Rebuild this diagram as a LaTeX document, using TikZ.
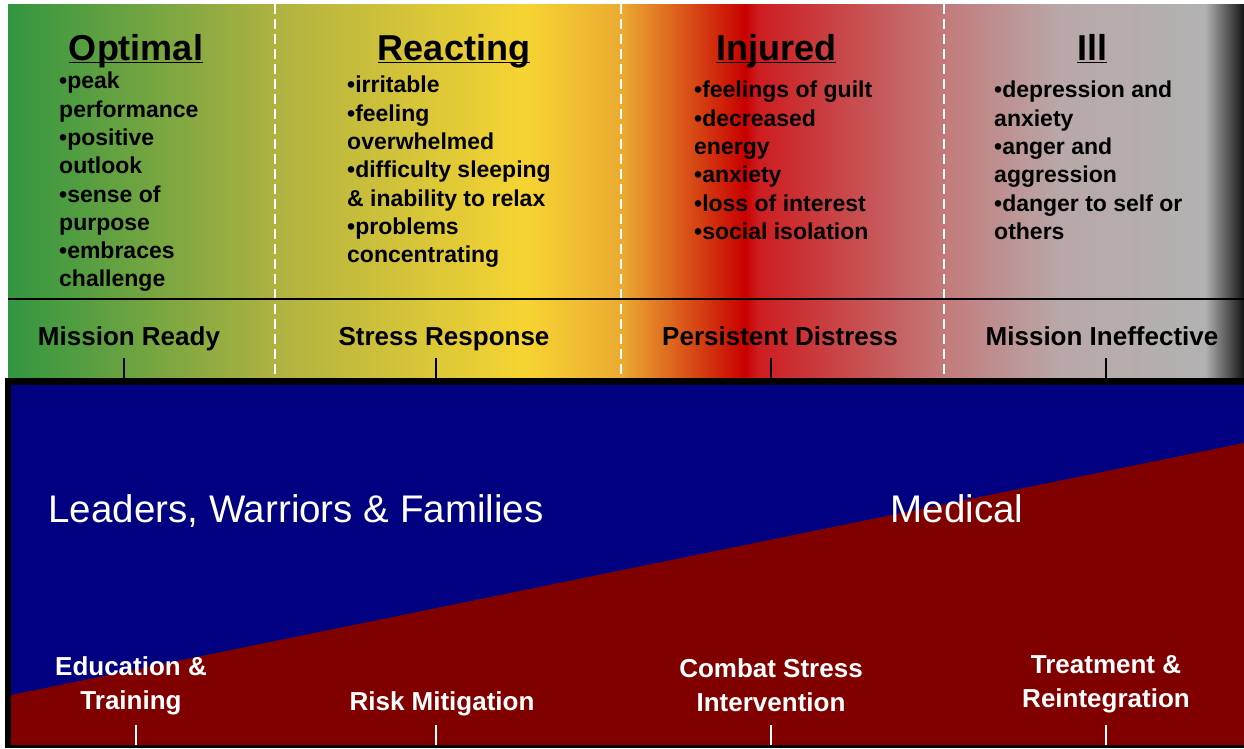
\documentclass[tikz,border=0pt]{standalone}
\usepackage{fontspec}
\setmainfont{Liberation Sans}

\definecolor{navyblue}{RGB}{0,0,128}
\definecolor{maroonred}{RGB}{128,0,0}
\definecolor{zonegreen}{RGB}{50,150,65}
\definecolor{zoneolive}{RGB}{175,178,65}
\definecolor{zoneyellow}{RGB}{246,212,50}
\definecolor{zoneorange}{RGB}{235,170,50}
\definecolor{zonered}{RGB}{200,0,0}
\definecolor{zonecrimson}{RGB}{205,28,32}
\definecolor{zonepink}{RGB}{195,122,122}
\definecolor{zonerose}{RGB}{185,168,168}
\definecolor{zonegray}{RGB}{178,178,178}
\definecolor{zonedark}{RGB}{20,20,20}

\begin{document}
\begin{tikzpicture}[x=1pt, y=-1pt,
    title/.style={font=\bfseries\fontsize{36}{40}\selectfont, inner sep=0pt, anchor=base},
    symptoms/.style={font=\bfseries\fontsize{23}{28.3}\selectfont, align=left, inner sep=0pt, anchor=north west},
    status/.style={font=\bfseries\fontsize{26}{30}\selectfont, inner sep=0pt, anchor=base},
    action/.style={font=\bfseries\fontsize{26}{34.5}\selectfont, text=white, align=center, inner sep=0pt, anchor=north},
    group/.style={font=\fontsize{38.5}{42}\selectfont, text=white, inner sep=0pt, anchor=base},
    divider/.style={white, line width=2pt, dash pattern=on 10pt off 5pt},
    tickline/.style={line width=2pt},
    underline/.style={line width=1.6pt}]
          \useasboundingbox (0,0) rectangle (1244,748);
          \fill[white] (0,0) rectangle (1244,748);
          % colour band
          \shade[left color=zonegreen,   right color=zoneolive]   (8,4)    rectangle (275.5,379);
          \shade[left color=zoneolive,   right color=zoneyellow]  (275,4)  rectangle (525.5,379);
          \shade[left color=zoneyellow,  right color=zoneorange]  (525,4)  rectangle (622.5,379);
          \shade[left color=zoneorange,  right color=zonered]     (622,4)  rectangle (745.5,379);
          \shade[left color=zonered,     right color=zonecrimson] (745,4)  rectangle (757.5,379);
          \shade[left color=zonecrimson, right color=zonepink]    (757,4)  rectangle (944.5,379);
          \shade[left color=zonepink,    right color=zonerose]    (944,4)  rectangle (1060.5,379);
          \shade[left color=zonerose,    right color=zonegray]    (1060,4) rectangle (1205.5,379);
          \shade[left color=zonegray,    right color=zonedark]    (1205,4) rectangle (1244,379);
          \draw[divider] (275,4) -- (275,379);
          \draw[divider] (621,4) -- (621,379);
          \draw[divider] (944,4) -- (944,379);
          \draw[line width=2pt] (8,299) -- (1244,299);

          % zone titles
          \node[title] (optimal)  at (136,60)  {Optimal};
          \node[title] (reacting) at (454,60)  {Reacting};
          \node[title] (injured)  at (776,60)  {Injured};
          \node[title] (ill)      at (1092,60) {Ill};
          \draw[underline] ([yshift=-2.5pt]optimal.base west)  -- ([yshift=-2.5pt]optimal.base east);
          \draw[underline] ([yshift=-2.5pt]reacting.base west) -- ([yshift=-2.5pt]reacting.base east);
          \draw[underline] ([yshift=-2.5pt]injured.base west)  -- ([yshift=-2.5pt]injured.base east);
          \draw[underline] ([yshift=-2.5pt]ill.base west)      -- ([yshift=-2.5pt]ill.base east);

          % symptoms
          \node[symptoms] (optimallist)  at (59,72)  {•peak\\performance\\•positive\\outlook\\•sense of\\purpose\\•embraces\\challenge};
          \node[symptoms] (reactinglist) at (347,76) {•irritable\\•feeling\\overwhelmed\\•difficulty sleeping\\\& inability to relax\\•problems\\concentrating};
          \node[symptoms] (injuredlist)  at (694,81) {•feelings of guilt\\•decreased\\energy\\•anxiety\\•loss of interest\\•social isolation};
          \node[symptoms] (illlist)      at (994,81) {•depression and\\anxiety\\•anger and\\aggression\\•danger to self or\\others};

          % readiness
          \node[status] (ready)       at (129,345)  {Mission Ready};
          \node[status] (response)    at (444,345)  {Stress Response};
          \node[status] (distress)    at (780,345)  {Persistent Distress};
          \node[status] (ineffective) at (1102,345) {Mission Ineffective};
          \draw[tickline] (124,358)  -- (124,379);
          \draw[tickline] (436,358)  -- (436,379);
          \draw[tickline] (771,358)  -- (771,379);
          \draw[tickline] (1106,358) -- (1106,379);

          % responsibility
          \fill[black] (5,378) rectangle (1244,748);
          \fill[navyblue] (11,385) rectangle (1244,745);
          \fill[maroonred] (11,695) -- (1244,443) -- (1244,745) -- (11,745) -- cycle;
          \node[group] (leaders) at (296,522) {Leaders, Warriors \& Families};
          \node[group] (medical) at (957,522) {Medical};

          % interventions
          \node[action] (education)    at (131,656)  {Education \&\\Training};
          \node[action] (mitigation)   at (442,691)  {Risk Mitigation};
          \node[action] (intervention) at (771,658)  {Combat Stress\\Intervention};
          \node[action] (treatment)    at (1106,655) {Treatment \&\\Reintegration};
          \draw[tickline, white] (136,725)  -- (136,745);
          \draw[tickline, white] (436,725)  -- (436,745);
          \draw[tickline, white] (771,725)  -- (771,745);
          \draw[tickline, white] (1106,725) -- (1106,745);
        \end{tikzpicture}
\end{document}
